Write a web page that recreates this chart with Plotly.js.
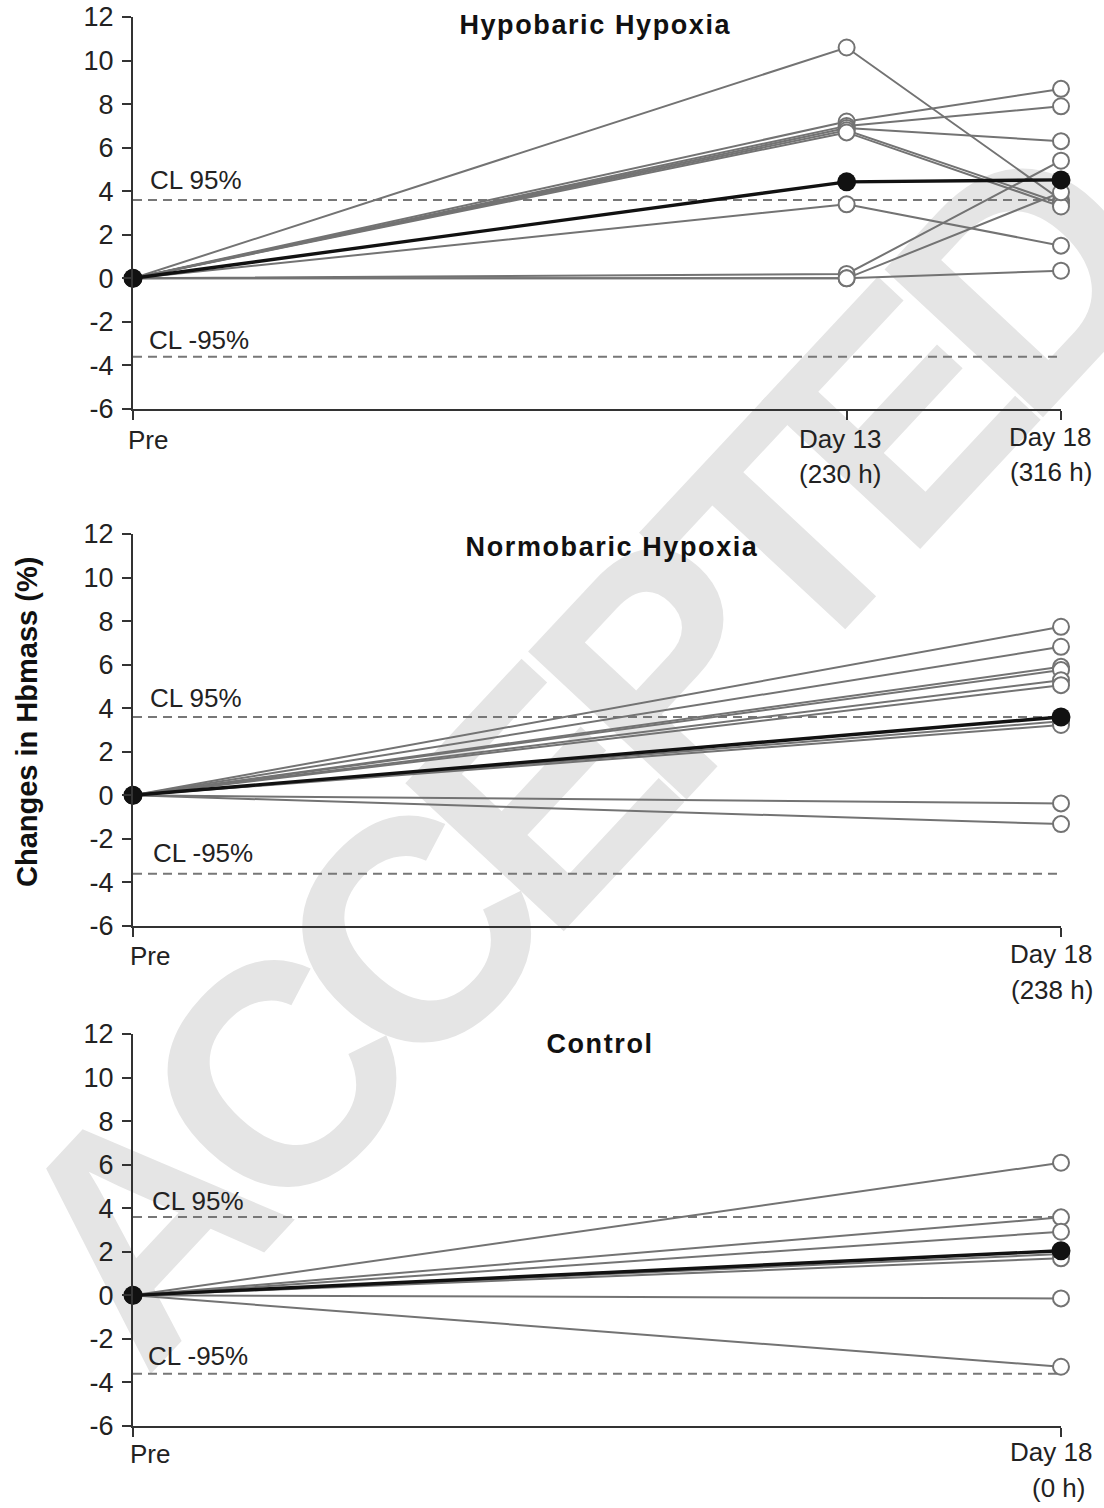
<!DOCTYPE html>
<html><head><meta charset="utf-8">
<script src="https://cdn.plot.ly/plotly-3.0.1.min.js"></script>
<style>
html,body{margin:0;padding:0;background:#fff;}
#wrap{position:relative;width:1104px;height:1508px;overflow:hidden;background:#fff;}
#wm{position:absolute;left:575px;top:760px;font-family:"Liberation Sans",Arial,sans-serif;font-weight:bold;font-size:315px;letter-spacing:-30px;line-height:1;color:#e5e5e5;white-space:nowrap;transform:translate(-50%,-50%) rotate(-47deg);}
#chart{position:absolute;left:0;top:0;width:1104px;height:1508px;}
</style></head>
<body><div id="wrap"><div id="wm">ACCEPTED</div><div id="chart"></div></div>
<script>
// ---------- data ----------
const timepoints = ['Pre', 'Day 13', 'Day 18'];
const hypobaricDay13 = [10.6, 7.2, 7.0, 6.9, 6.8, 6.7, 3.4, 0.2, 0.0, 0.0];
const hypobaricDay18 = [3.6, 8.7, 7.9, 6.3, 3.45, 3.3, 1.5, 5.4, 3.95, 0.35];
const hypobaricMean = [0, 4.43, 4.52];
const normobaricDay18 = [7.74, 6.82, 5.9, 5.75, 5.29, 5.06, 3.4, 3.23, -0.37, -1.32];
const normobaricMean = [0, 3.6];
const controlDay18 = [6.09, 3.58, 2.92, 1.9, 1.7, -0.14, -3.28];
const controlMean = [0, 2.05];
const clUpper = 3.6;
const clLower = -3.6;
const panelTitles = ['Hypobaric Hypoxia', 'Normobaric Hypoxia', 'Control'];
const hypobaricHours = ['(230 h)', '(316 h)'];
const normobaricHours = ['(238 h)'];
const controlHours = ['(0 h)'];
const yTicks = [-6, -4, -2, 0, 2, 4, 6, 8, 10, 12];

// ---------- layout helpers ----------
const W = 1104, H = 1508, ML = 133, MR = 43, MT = 17, MB = 82;
const PW = W - ML - MR, PH = H - MT - MB;
const px = x => (x - ML) / PW;
const py = y => (H - MB - y) / PH;
const xPos = {'Pre': 0, 'Day 13': 0.769, 'Day 18': 1};

const FONT = '"Liberation Sans", Arial, sans-serif';
const GRAY = '#737373';
const traces = [];

function addPanel(ax, xs, seriesList, mean) {
  const xa = ax === 1 ? 'x' : 'x' + ax;
  const ya = ax === 1 ? 'y' : 'y' + ax;
  const xv = xs.map(t => xPos[t]);
  seriesList.forEach(vals => {
    traces.push({
      x: xv, y: [0].concat(vals), xaxis: xa, yaxis: ya, type: 'scatter', mode: 'lines+markers',
      cliponaxis: false, hoverinfo: 'skip', showlegend: false,
      line: {color: GRAY, width: 2},
      marker: {symbol: 'circle', size: 16, color: '#ffffff', line: {color: GRAY, width: 2}}
    });
  });
  traces.push({
    x: xv, y: mean, xaxis: xa, yaxis: ya, type: 'scatter', mode: 'lines+markers',
    cliponaxis: false, hoverinfo: 'skip', showlegend: false,
    line: {color: '#111111', width: 3.4},
    marker: {symbol: 'circle', size: 19, color: '#111111'}
  });
}

const hypoSubjects = hypobaricDay13.map((v, i) => [v, hypobaricDay18[i]]);
addPanel(1, timepoints, hypoSubjects, hypobaricMean);
addPanel(2, ['Pre', 'Day 18'], normobaricDay18.map(v => [v]), normobaricMean);
addPanel(3, ['Pre', 'Day 18'], controlDay18.map(v => [v]), controlMean);

const domains = [[py(409), 1], [py(926), py(534)], [0, py(1034)]];
const layout = {
  width: W, height: H,
  margin: {l: ML, r: MR, t: MT, b: MB, pad: 0},
  paper_bgcolor: 'rgba(0,0,0,0)', plot_bgcolor: 'rgba(0,0,0,0)',
  showlegend: false,
  font: {family: FONT, size: 26, color: '#222'},
  shapes: [], annotations: []
};
const xTickSets = [[0, xPos['Day 13'], 1], [0, 1], [0, 1]];
for (let i = 0; i < 3; i++) {
  const s = i === 0 ? '' : String(i + 1);
  layout['xaxis' + s] = {
    domain: [0, 1], range: [0, 1], anchor: 'y' + s, showgrid: false, zeroline: false,
    showline: true, linecolor: '#333', linewidth: 2,
    tickmode: 'array', tickvals: xTickSets[i], showticklabels: false,
    ticks: 'outside', ticklen: 9, tickwidth: 2, tickcolor: '#333', fixedrange: true
  };
  layout['yaxis' + s] = {
    domain: domains[i], range: [-6, 12], anchor: 'x' + s, showgrid: false, zeroline: false,
    showline: true, linecolor: '#333', linewidth: 2,
    tickmode: 'array', tickvals: yTicks, ticktext: yTicks.map(String),
    ticks: 'outside', ticklen: 9, tickwidth: 2, tickcolor: '#333',
    tickfont: {family: FONT, size: 27, color: '#222'}, ticklabelstandoff: 3, fixedrange: true
  };
  [clUpper, clLower].forEach(v => layout.shapes.push({
    type: 'line', xref: 'x' + s, yref: 'y' + s, x0: 0, x1: 1, y0: v, y1: v, layer: 'below',
    line: {color: '#777777', width: 2, dash: '9px,6px'}
  }));
}

function ann(text, x, y, opts) {
  layout.annotations.push(Object.assign({
    text: text, xref: 'paper', yref: 'paper', x: px(x), y: py(y),
    xanchor: 'center', yanchor: 'middle', showarrow: false,
    font: {family: FONT, size: 26, color: '#222'}
  }, opts || {}));
}
const titleFont = {family: FONT, size: 27, color: '#111', weight: 'bold'};
ann(panelTitles[0], 596, 25, {font: titleFont});
ann(panelTitles[1], 612, 547, {font: titleFont});
ann(panelTitles[2], 600, 1044, {font: titleFont});

ann('Changes in Hbmass (%)', 27, 722, {textangle: -90, font: {family: FONT, size: 29, color: '#111', weight: 'bold'}});

// x labels
ann('Pre', 148, 440);
ann('Day 13', 840, 439); ann(hypobaricHours[0], 840, 474);
ann('Day 18', 1050, 437); ann(hypobaricHours[1], 1051, 472);
ann('Pre', 150, 956);
ann('Day 18', 1051, 954); ann(normobaricHours[0], 1052, 990);
ann('Pre', 150, 1454);
ann('Day 18', 1051, 1452); ann(controlHours[0], 1058, 1488);

// CL labels
ann('CL 95%', 196, 180); ann('CL -95%', 199, 340);
ann('CL 95%', 196, 698); ann('CL -95%', 203, 853);
ann('CL 95%', 198, 1201); ann('CL -95%', 198, 1356);

Plotly.newPlot('chart', traces, layout, {staticPlot: true, displayModeBar: false}).then(() => {
  document.querySelectorAll('#chart text.annotation-text').forEach(t => {
    if (panelTitles.indexOf(t.textContent) >= 0) t.style.letterSpacing = '1.6px';
  });
});
</script>
</body></html>
